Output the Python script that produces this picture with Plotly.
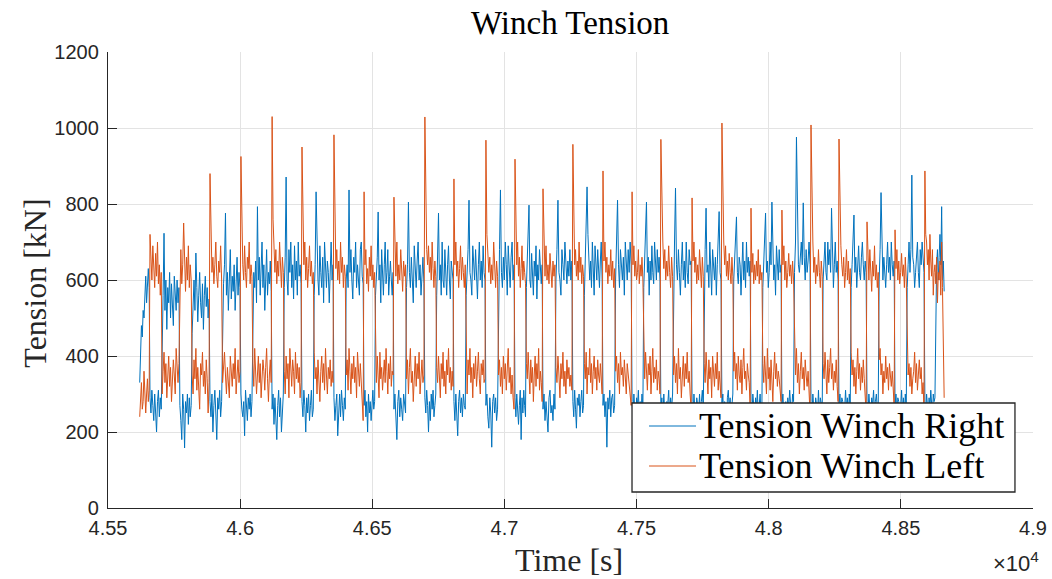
import numpy as np
import plotly.graph_objects as go

# Time frame of the read-off series [s]
T_FIRST = 45620.0
T_LAST = 48667.0
# Times where the left winch switches to its high phase (start of each cycle)
cycle_starts = [45659, 45772, 45886, 46003, 46121, 46234, 46355, 46469, 46582,
                46699, 46809, 46930, 47040, 47146, 47259, 47373, 47483, 47592,
                47710, 47823, 47933, 48050, 48160, 48266, 48372, 48478, 48591]

# Tension Winch Left (orange), read per cycle (high phase, then low phase)
left_init = [240, 300, 330, 260, 280, 360, 320, 250, 300, 340, 280, 310]
left_cycles = [
    [720, 650, 600, 690, 630, 580, 670, 610, 700, 590, 640, 560, 620,
     300, 360, 410, 330, 380, 290, 350, 400, 320, 370, 280, 340, 390, 350, 300, 420, 360, 330, 380],
    [610, 680, 590, 640, 750, 620, 570, 660, 600, 690, 580, 640, 600,
     350, 300, 390, 340, 420, 310, 370, 330, 260, 380, 350, 410, 320, 360, 300, 390, 340, 250, 330],
    [880, 700, 620, 660, 590, 640, 700, 610, 580, 650, 620, 690, 600,
     330, 380, 410, 350, 300, 370, 340, 290, 400, 360, 320, 380, 340, 420, 300, 350, 390, 330, 360],
    [925, 720, 640, 600, 690, 620, 580, 660, 630, 700, 590, 640, 610,
     380, 320, 420, 360, 300, 350, 400, 330, 380, 290, 340, 390, 360, 310, 370, 420, 340, 280, 350, 390, 330],
    [1030, 760, 700, 620, 680, 590, 650, 610, 700, 640, 580, 660, 620,
     360, 300, 400, 340, 380, 290, 420, 350, 320, 390, 360, 300, 410, 340, 380, 330, 370, 290, 330],
    [950, 720, 640, 700, 600, 660, 580, 630, 690, 610, 650, 590, 620,
     410, 340, 370, 300, 390, 350, 280, 360, 400, 330, 380, 310, 420, 350, 300, 370, 340, 390, 320, 360, 330],
    [982, 740, 630, 680, 600, 650, 590, 700, 620, 660, 580, 640, 610,
     350, 390, 310, 420, 360, 300, 380, 340, 400, 330, 370, 290, 410, 350, 320, 380, 340, 300, 230],
    [832, 640, 680, 590, 630, 570, 660, 610, 690, 600, 640, 580, 620,
     380, 330, 400, 360, 290, 410, 340, 370, 310, 350, 390, 330, 420, 360, 300, 380, 340, 400, 320, 360, 350],
    [818, 660, 610, 700, 590, 640, 600, 680, 620, 570, 650, 610, 640,
     340, 390, 300, 370, 420, 330, 360, 280, 350, 400, 320, 380, 340, 410, 300, 360, 390, 330, 350],
    [1029, 800, 680, 640, 690, 620, 660, 600, 700, 630, 580, 650, 610,
     370, 330, 400, 350, 290, 380, 340, 410, 320, 360, 300, 390, 350, 420, 330, 370, 310, 360, 320],
    [866, 640, 700, 610, 650, 580, 630, 690, 600, 660, 620, 580, 640,
     360, 300, 390, 350, 420, 330, 370, 290, 380, 340, 400, 320, 360, 410, 340, 300, 380, 350, 390, 330, 340],
    [968, 720, 680, 620, 660, 590, 640, 600, 700, 630, 580, 650, 610,
     350, 390, 320, 370, 300, 400, 340, 380, 310, 360, 420, 330, 370, 300, 350, 290, 260],
    [918, 700, 640, 700, 610, 660, 580, 630, 690, 600, 650, 620, 590,
     380, 340, 410, 360, 300, 390, 330, 370, 280, 350, 400, 320, 380, 340, 420, 310, 360, 330, 280],
    [840, 660, 610, 690, 600, 640, 590, 670, 620, 580, 650, 610, 640,
     370, 330, 400, 350, 290, 380, 340, 410, 320, 360, 300, 390, 340, 370, 320, 350, 310],
    [957, 740, 640, 680, 610, 650, 600, 700, 620, 660, 590, 640, 610,
     380, 340, 410, 300, 370, 350, 420, 330, 380, 300, 360, 400, 340, 370, 310, 390, 350, 330, 380, 340, 300],
    [887, 650, 700, 620, 660, 590, 640, 610, 680, 600, 650, 580, 630,
     360, 400, 330, 380, 300, 410, 350, 370, 320, 390, 340, 300, 380, 350, 330, 300, 270],
    [832, 640, 690, 610, 650, 600, 620, 680, 590, 640, 610, 660, 600,
     390, 340, 410, 370, 310, 380, 350, 400, 300, 360, 420, 330, 370, 340, 390, 310, 360, 340, 300],
    [970, 760, 700, 630, 680, 600, 650, 610, 690, 620, 580, 660, 610,
     350, 400, 330, 380, 300, 420, 340, 370, 290, 360, 400, 320, 380, 340, 410, 330, 360, 300, 260],
    [816, 650, 700, 620, 660, 590, 640, 600, 680, 630, 580, 660, 610,
     380, 330, 410, 350, 300, 390, 340, 370, 290, 400, 350, 320, 380, 340, 410, 310, 360, 330, 290],
    [1013, 780, 700, 640, 690, 610, 650, 600, 670, 620, 590, 660, 610,
     360, 410, 340, 380, 310, 400, 350, 330, 390, 300, 370, 420, 340, 360, 310, 380, 350, 330, 270],
    [789, 620, 670, 590, 640, 600, 650, 610, 680, 590, 640, 600, 620,
     380, 330, 400, 360, 300, 420, 340, 370, 310, 390, 350, 280, 360, 410, 340, 380, 320, 360, 340, 310, 280],
    [784, 640, 690, 600, 650, 580, 620, 670, 610, 640, 590, 650, 600,
     400, 350, 420, 330, 380, 300, 360, 410, 340, 370, 310, 390, 350, 320, 360, 300, 250],
    [1008, 780, 700, 620, 660, 590, 640, 610, 680, 620, 580, 650, 610,
     380, 340, 410, 360, 300, 390, 330, 370, 420, 340, 380, 310, 360, 330, 390, 320, 280],
    [971, 760, 690, 640, 610, 660, 580, 620, 680, 600, 650, 590, 630,
     410, 350, 390, 320, 370, 300, 360, 420, 340, 380, 310, 370, 330, 390, 340, 300, 250],
    [753, 640, 600, 680, 620, 570, 650, 610, 690, 600, 640, 580, 620,
     390, 420, 350, 380, 300, 360, 330, 400, 340, 370, 310, 380, 350, 320, 360, 300, 270],
    [732, 630, 680, 600, 650, 590, 620, 670, 610, 640, 580, 660, 600,
     400, 350, 380, 320, 370, 300, 340, 360, 410, 330, 380, 310, 350, 390, 340, 370, 300, 330, 260],
    [887, 720, 700, 640, 680, 600, 720, 650, 610, 680, 560, 620, 640,
     590, 660, 540, 620, 600, 650, 560, 700, 580, 420, 290],
]

# Tension Winch Right (blue), read per cycle (low phase, then high phase)
right_init = [330, 400, 480, 450, 520, 500, 560, 610, 540, 600, 630, 580]
right_cycles = [
    [290, 250, 310, 270, 230, 300, 260, 200, 280, 310, 240, 290, 260,
     480, 560, 723, 520, 600, 470, 580, 540, 620, 500, 590, 550, 480, 610, 570, 520, 600, 540, 580],
    [270, 230, 180, 300, 260, 158, 280, 250, 300, 220, 290, 240, 270,
     460, 540, 600, 520, 671, 580, 490, 560, 620, 540, 500, 590, 470, 560, 610, 530, 580, 500, 550],
    [280, 240, 300, 200, 270, 310, 250, 180, 290, 260, 310, 240, 280,
     500, 590, 640, 776, 560, 620, 520, 600, 680, 550, 610, 570, 640, 520, 590, 660, 560, 620, 580],
    [300, 260, 240, 280, 190, 310, 270, 230, 290, 260, 300, 240, 280,
     540, 620, 580, 650, 540, 793, 600, 660, 560, 620, 700, 580, 640, 520, 610, 680, 560, 620, 590, 650, 570],
    [260, 300, 220, 290, 250, 180, 270, 310, 240, 290, 200, 280, 300,
     580, 660, 871, 600, 560, 680, 620, 700, 580, 640, 550, 690, 600, 650, 560, 700, 610, 640, 590],
    [280, 240, 310, 270, 200, 290, 250, 300, 230, 270, 310, 240, 260,
     560, 640, 832, 650, 600, 560, 690, 620, 580, 660, 540, 700, 610, 580, 650, 620, 540, 660, 700, 600, 640],
    [290, 230, 270, 300, 190, 260, 300, 240, 310, 270, 230, 290, 260,
     600, 640, 580, 837, 620, 680, 600, 550, 660, 620, 700, 580, 640, 600, 560, 680, 700, 610, 590],
    [270, 310, 240, 280, 200, 300, 250, 280, 230, 290, 310, 260, 280,
     560, 620, 660, 779, 600, 640, 540, 680, 600, 560, 640, 700, 590, 620, 680, 560, 610, 650, 600, 560, 620],
    [260, 300, 240, 180, 280, 310, 240, 290, 260, 230, 300, 270, 250,
     580, 640, 805, 620, 580, 660, 600, 540, 690, 620, 580, 650, 700, 600, 640, 560, 620, 660, 590],
    [290, 250, 310, 270, 200, 280, 230, 300, 260, 310, 240, 270, 300,
     560, 640, 776, 600, 640, 560, 700, 600, 580, 680, 620, 560, 640, 690, 600, 550, 650, 620, 600],
    [280, 230, 300, 260, 190, 280, 310, 250, 290, 240, 300, 270, 260,
     560, 620, 680, 810, 620, 600, 560, 690, 640, 600, 680, 620, 550, 640, 700, 600, 650, 580, 690, 620, 600],
    [270, 300, 240, 210, 290, 250, 160, 280, 300, 250, 290, 230, 260,
     600, 680, 837, 620, 580, 660, 600, 700, 640, 560, 690, 620, 580, 660, 700, 600, 640],
    [290, 240, 300, 260, 220, 270, 310, 180, 290, 250, 310, 270, 240,
     580, 640, 700, 797, 600, 580, 670, 620, 560, 650, 610, 690, 550, 640, 600, 680, 620, 590, 640],
    [260, 300, 230, 280, 250, 200, 290, 310, 250, 270, 230, 300, 260,
     600, 680, 810, 620, 600, 560, 680, 640, 600, 700, 620, 590, 650, 610, 680, 600, 650],
    [280, 240, 310, 260, 210, 290, 270, 300, 240, 280, 310, 250, 270,
     560, 640, 700, 845, 720, 620, 600, 650, 580, 700, 620, 560, 690, 640, 600, 680, 620, 580, 650, 700, 600],
    [270, 300, 240, 280, 160, 290, 260, 310, 240, 290, 300, 250, 270,
     600, 680, 810, 640, 580, 680, 620, 600, 660, 560, 700, 640, 600, 680, 620, 700, 640],
    [280, 240, 300, 260, 220, 290, 270, 310, 240, 280, 250, 300, 260,
     580, 640, 700, 805, 620, 660, 560, 650, 600, 690, 620, 590, 700, 640, 600, 680, 620, 660, 600],
    [260, 290, 230, 300, 250, 200, 280, 270, 310, 240, 290, 260, 300,
     620, 700, 842, 640, 600, 680, 620, 560, 640, 700, 600, 650, 580, 700, 620, 590, 680, 640, 650],
    [280, 240, 300, 260, 210, 290, 270, 250, 300, 240, 280, 310, 260,
     580, 680, 789, 620, 640, 580, 700, 620, 560, 680, 620, 600, 660, 560, 640, 700, 780, 620, 600],
    [270, 300, 230, 280, 250, 200, 290, 310, 260, 290, 240, 280, 300,
     600, 660, 700, 766, 620, 590, 660, 640, 560, 620, 700, 600, 650, 580, 700, 620, 660, 610, 650],
    [280, 240, 300, 270, 210, 290, 260, 310, 240, 280, 300, 250, 270,
     580, 640, 680, 776, 620, 650, 580, 620, 700, 640, 805, 660, 600, 640, 560, 690, 640, 600, 680, 620, 640],
    [270, 300, 240, 230, 280, 200, 290, 260, 310, 270, 240, 300, 280,
     620, 700, 976, 760, 640, 620, 680, 700, 640, 803, 660, 600, 680, 620, 650, 700, 640],
    [280, 240, 300, 260, 220, 290, 270, 250, 310, 240, 290, 270, 260,
     600, 640, 700, 620, 600, 700, 640, 680, 620, 789, 660, 580, 640, 700, 620, 650, 600],
    [270, 300, 240, 290, 280, 210, 270, 310, 260, 290, 240, 300, 260,
     580, 640, 700, 771, 620, 660, 580, 640, 690, 620, 600, 660, 700, 640, 600, 650, 620],
    [280, 250, 300, 260, 230, 290, 270, 310, 250, 280, 300, 260, 270,
     600, 680, 830, 640, 600, 660, 620, 580, 640, 700, 620, 660, 600, 700, 640, 610, 650],
    [270, 300, 240, 290, 280, 220, 270, 310, 250, 290, 240, 300, 260,
     580, 640, 700, 620, 680, 876, 660, 640, 580, 620, 660, 700, 620, 580, 680, 640, 700, 660, 620],
    [280, 250, 300, 270, 240, 290, 260, 310, 270, 240, 300, 280, 290,
     560, 640, 680, 600, 660, 720, 640, 793, 600, 650, 570],
]

x_tick_vals = [45500, 46000, 46500, 47000, 47500, 48000, 48500, 49000]
x_tick_text = ["4.55", "4.6", "4.65", "4.7", "4.75", "4.8", "4.85", "4.9"]
y_tick_vals = [0, 200, 400, 600, 800, 1000, 1200]
legend_names = ["Tension Winch Right", "Tension Winch Left"]
COLORS = ["#0072BD", "#D95319"]


def spread(init, cycles):
    """Place each read-off segment evenly inside its own time span."""
    bounds = [T_FIRST] + cycle_starts + [T_LAST]
    segs = [init] + cycles
    ts, vs = [], []
    for i, seg in enumerate(segs):
        a, b = bounds[i], bounds[i + 1]
        n = len(seg)
        ts.extend(a + (b - a) * np.arange(n) / n)
        vs.extend(seg)
    return np.array(ts), vs


t_right, right_vals = spread(right_init, right_cycles)
t_left, left_vals = spread(left_init, left_cycles)

SERIF = "Liberation Serif, DejaVu Serif, serif"
SANS = "Liberation Sans, Arial, sans-serif"
AXC = "#262626"
GRID = "#e3e3e3"

fig = go.Figure()
fig.add_trace(go.Scatter(x=t_right, y=right_vals, mode="lines",
                         name=legend_names[0], showlegend=False,
                         line=dict(color=COLORS[0], width=1)))
fig.add_trace(go.Scatter(x=t_left, y=left_vals, mode="lines",
                         name=legend_names[1], showlegend=False,
                         line=dict(color=COLORS[1], width=1)))

fig.update_layout(
    width=1052, height=579,
    margin=dict(l=108, r=19, t=52, b=71, autoexpand=False),
    paper_bgcolor="white", plot_bgcolor="white",
    title=dict(text="Winch Tension", x=0.542, xanchor="center", y=0.962, yanchor="middle",
               font=dict(family=SERIF, size=33, color="black")),
    xaxis=dict(range=[45500, 49000], tickvals=x_tick_vals, ticktext=x_tick_text,
               showgrid=True, gridcolor=GRID, gridwidth=1,
               showline=True, linecolor=AXC, linewidth=1.3,
               ticks="inside", ticklen=9, tickcolor=AXC, tickwidth=1.3,
               tickfont=dict(family=SANS, size=20, color=AXC),
               zeroline=False, automargin=False, ticklabelstandoff=2),
    yaxis=dict(range=[0, 1200], tickvals=y_tick_vals,
               showgrid=True, gridcolor=GRID, gridwidth=1,
               showline=True, linecolor=AXC, linewidth=1.3,
               ticks="inside", ticklen=9, tickcolor=AXC, tickwidth=1.3,
               tickfont=dict(family=SANS, size=20, color=AXC),
               zeroline=False, ticklabelstandoff=4, automargin=False),
)

# axis titles
fig.add_annotation(text="Time [s]", xref="paper", yref="paper",
                   x=0.498, y=-0.114, xanchor="center", yanchor="middle",
                   showarrow=False, font=dict(family=SERIF, size=32, color=AXC))
fig.add_annotation(text="Tension [kN]", xref="paper", yref="paper",
                   x=-0.079, y=0.494, xanchor="center", yanchor="middle", textangle=-90,
                   showarrow=False, font=dict(family=SERIF, size=32, color=AXC))
# exponent label
fig.add_annotation(text="×10<sup>4</sup>", xref="paper", yref="paper",
                   x=1.009, y=-0.118, xanchor="right", yanchor="middle",
                   showarrow=False, font=dict(family=SANS, size=22, color=AXC))

# legend box (MATLAB-style)
LX0, LX1, LY0, LY1 = 0.5665, 0.9805, 0.0351, 0.2303
fig.add_shape(type="rect", xref="paper", yref="paper", x0=LX0, x1=LX1, y0=LY0, y1=LY1,
              line=dict(color=AXC, width=1.3), fillcolor="white", layer="above")
for i, (name, col) in enumerate(zip(legend_names, COLORS)):
    yy = 0.1798 - i * 0.0877
    fig.add_shape(type="line", xref="paper", yref="paper", x0=0.5849, x1=0.6357,
                  y0=yy, y1=yy, line=dict(color=col, width=1), layer="above")
    fig.add_annotation(text=name, xref="paper", yref="paper", x=0.6368, y=yy,
                       xanchor="left", yanchor="middle", showarrow=False,
                       font=dict(family=SERIF, size=36, color="black"))

fig.write_html("out.html", config={"displayModeBar": False},
               post_script="document.body.style.margin='0';")
